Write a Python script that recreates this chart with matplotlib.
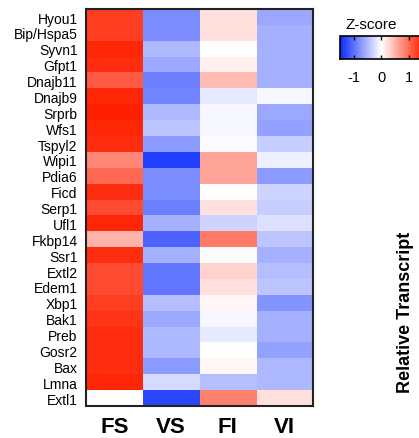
import numpy as np
import matplotlib.pyplot as plt
from matplotlib.colors import LinearSegmentedColormap, Normalize
import matplotlib as mpl

plt.rcParams['font.family'] = ['Liberation Sans', 'DejaVu Sans']

genes = ['Hyou1', 'Bip/Hspa5', 'Syvn1', 'Gfpt1', 'Dnajb11', 'Dnajb9', 'Srprb',
         'Wfs1', 'Tspyl2', 'Wipi1', 'Pdia6', 'Ficd', 'Serp1', 'Ufl1', 'Fkbp14',
         'Ssr1', 'Extl2', 'Edem1', 'Xbp1', 'Bak1', 'Preb', 'Gosr2', 'Bax',
         'Lmna', 'Extl1']
groups = ['FS', 'VS', 'FI', 'VI']

fs = [1.30, 1.30, 1.45, 1.40, 1.10, 1.45, 1.50, 1.45, 1.40, 0.80, 1.00, 1.40, 1.20,
      1.45, 0.50, 1.40, 1.20, 1.20, 1.30, 1.35, 1.40, 1.40, 1.40, 1.45, 0.00]
vs = [-0.80, -0.80, -0.50, -0.60, -0.90, -0.85, -0.50, -0.40, -0.70, -1.35, -0.80,
      -0.80, -0.90, -0.55, -1.10, -0.55, -0.95, -0.95, -0.45, -0.60, -0.50, -0.50,
      -0.70, -0.25, -1.30]
fi = [0.20, 0.20, 0.00, 0.10, 0.45, -0.15, -0.05, -0.05, -0.03, 0.60, 0.60, 0.00,
      0.20, -0.30, 0.90, -0.02, 0.30, 0.20, 0.05, -0.05, -0.15, 0.00, 0.05, -0.45,
      0.85]
vi = [-0.60, -0.55, -0.55, -0.55, -0.55, -0.05, -0.60, -0.65, -0.35, -0.10, -0.70,
      -0.30, -0.35, -0.20, -0.40, -0.55, -0.45, -0.40, -0.75, -0.55, -0.55, -0.65,
      -0.50, -0.50, 0.20]

cbar_ticks = [-1, 0, 1]
vmin, vmax = -1.5, 1.5

data = np.column_stack([fs, vs, fi, vi])

cmap = LinearSegmentedColormap.from_list('zs', ['#0a2aff', '#ffffff', '#ff2000'])
norm = Normalize(vmin=vmin, vmax=vmax)

fig = plt.figure(figsize=(4.19, 4.39), dpi=100)

ax = fig.add_axes([0.205, 0.073, 0.542, 0.904])
ax.imshow(data, cmap=cmap, norm=norm, aspect='auto', interpolation='nearest')
ax.set_xticks(range(len(groups)))
ax.set_xticklabels(groups, fontsize=16, fontweight='bold')
ax.set_yticks(range(len(genes)))
ax.set_yticklabels(genes, fontsize=10)
ax.tick_params(axis='both', length=0)
ax.tick_params(axis='y', pad=6)
ax.tick_params(axis='x', pad=7)
for sp in ax.spines.values():
    sp.set_linewidth(1.5)
    sp.set_color('#222222')

# colorbar
cax = fig.add_axes([0.811, 0.863, 0.198, 0.052])
cb = mpl.colorbar.ColorbarBase(cax, cmap=cmap, norm=norm, orientation='horizontal')
cb.set_ticks(cbar_ticks)
cb.set_ticklabels(['-1', '0', '1'])
cax.tick_params(axis='x', direction='in', length=3, width=1, top=True,
                labelsize=10.5, pad=8)
cb.outline.set_linewidth(1.2)
fig.text(0.885, 0.928, 'Z-score', ha='center', va='bottom', fontsize=11)

fig.text(0.967, 0.289, 'Relative Transcript', rotation=90, ha='center',
         va='center', fontsize=13, fontweight='bold')

fig.savefig('out.png', dpi=100, facecolor='white')
